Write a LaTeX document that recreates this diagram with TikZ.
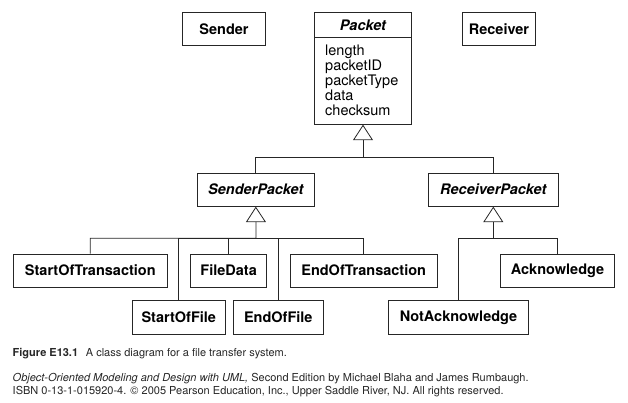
\documentclass[tikz,border=0pt]{standalone}
\usepackage{fontspec}
\setmainfont{TeX Gyre Heros}
\usetikzlibrary{arrows.meta}
\begin{document}
\begin{tikzpicture}[x=1pt,y=-1pt,
  box/.style={draw=black!85, line width=0.8pt, minimum height=33.3pt, inner sep=0pt,
    font=\fontsize{14.5}{17}\selectfont\bfseries},
  abox/.style={box, font=\fontsize{14.5}{17}\selectfont\bfseries\itshape},
  link/.style={draw=black!85, line width=0.8pt},
  inh/.style={link, -{Triangle[open, length=15.5pt, width=20pt]}},
  captext/.style={anchor=base west, inner sep=0pt, font=\fontsize{11}{13}\selectfont, text=black!85},
  ]
\useasboundingbox (0,0) rectangle (628,403);

% top row
\node[box, minimum width=83.4pt] (sender) at (224,29) {Sender};
\node[box, minimum width=73.4pt] (receiver) at (499,29) {Receiver};
\node[box, minimum width=97.4pt, minimum height=112pt] (packet) at (363,68.3) {};
\node[font=\fontsize{14.5}{17}\selectfont\bfseries\itshape, inner sep=0pt] (ptitle) at (363,25) {Packet};
\draw[link] ([yshift=-25.4pt]packet.north west) -- ([yshift=-25.4pt]packet.north east);
\node[anchor=north west, align=left, inner sep=0pt,
      font=\fontsize{14.5}{15}\selectfont] (pattr) at (325,44.5)
      {length\\packetID\\packetType\\data\\checksum};

% middle row
\node[abox, minimum width=117pt] (sp) at (255.8,189.6) {SenderPacket};
\node[abox, minimum width=130pt] (rp) at (493.3,189.6) {ReceiverPacket};

% bottom rows
\node[box, minimum width=154pt] (sot) at (90.3,270.6) {StartOfTransaction};
\node[box, minimum width=93pt] (sof) at (178.8,317.3) {StartOfFile};
\node[box, minimum width=76pt] (fd) at (228.7,270.6) {FileData};
\node[box, minimum width=90pt] (eof) at (278.3,317.3) {EndOfFile};
\node[box, minimum width=147.3pt] (eot) at (363.7,270.6) {EndOfTransaction};
\node[box, minimum width=139.6pt] (nack) at (458.5,317.3) {NotAcknowledge};
\node[box, minimum width=113.6pt] (ack) at (557.5,270.6) {Acknowledge};

% junctions
\coordinate (j1) at (363,157.3);
\coordinate (j2) at (256,238.3);
\coordinate (j3) at (493.3,238.3);

% generalizations
\draw[inh] (sp.north) |- (j1) -- (packet.south);
\draw[link] (rp.north) |- (j1);

\draw[inh] (sot.north) |- (j2) -- (sp.south);
\draw[link] (sof.north) |- (j2);
\draw[link] (fd.north) |- (j2);
\draw[link] (eof.north) |- (j2);
\draw[link] (eot.north) |- (j2);

\draw[inh] (nack.north) |- (j3) -- (rp.south);
\draw[link] (ack.north) |- (j3);

% caption
\node[captext] (cap) at (12.5,356.5) {\textbf{Figure E13.1}\hspace{0.7em}A class diagram for a file transfer system.};
\node[captext] (src1) at (12.5,381.5) {\textit{Object-Oriented Modeling and Design with UML,} Second Edition by Michael Blaha and James Rumbaugh.};
\node[captext] (src2) at (12.5,394.5) {ISBN 0-13-1-015920-4. © 2005 Pearson Education, Inc., Upper Saddle River, NJ. All rights reserved.};
\end{tikzpicture}
\end{document}
